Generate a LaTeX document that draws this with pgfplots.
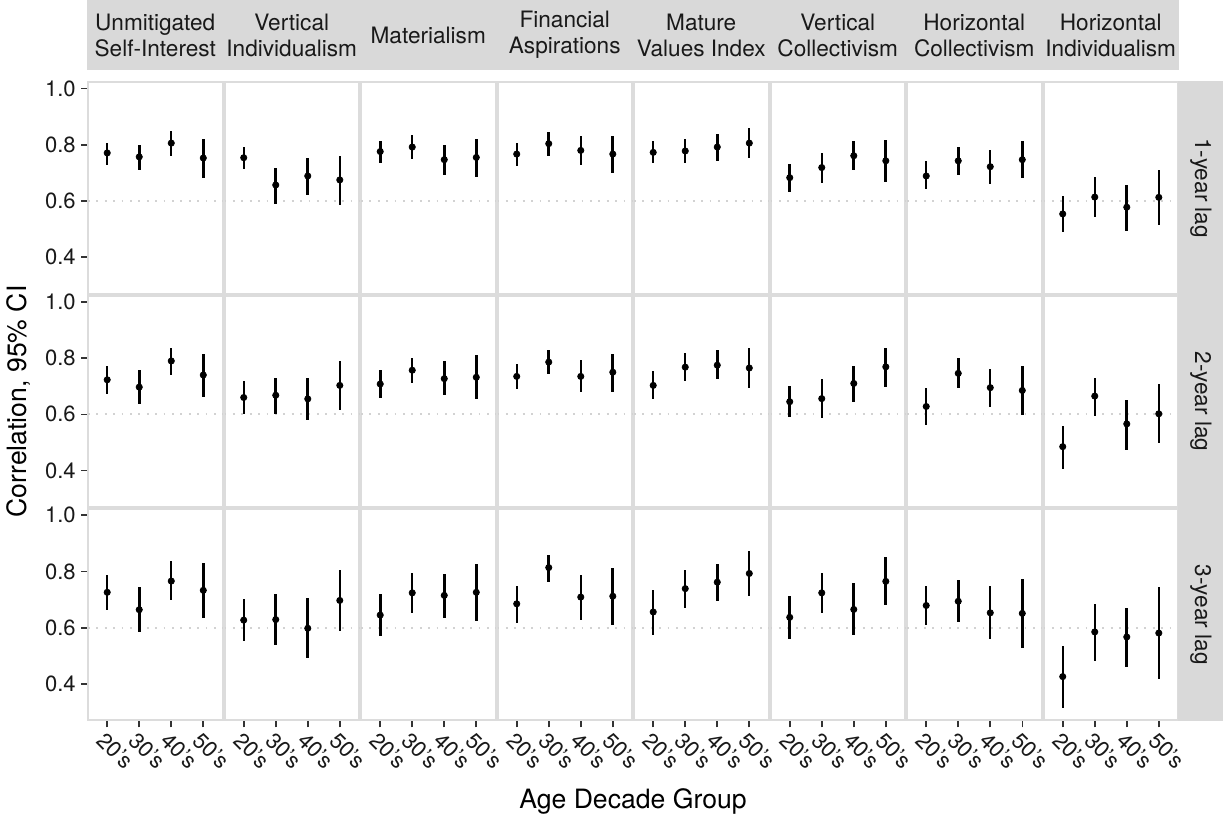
\documentclass[border=0pt]{standalone}
\usepackage{fontspec}
\setmainfont{TeX Gyre Heros}
\usepackage{pgfplots}
\pgfplotsset{compat=1.18}
\usepgfplotslibrary{groupplots}
\usetikzlibrary{calc}

\definecolor{stripgray}{HTML}{D9D9D9}
\definecolor{bordergray}{HTML}{DCDCDC}
\definecolor{tickgray}{HTML}{333333}
\definecolor{refgray}{HTML}{D2D2D2}

\pgfplotsset{
  ci/.style={only marks, mark=*, mark size=1.55pt, black,
    error bars/.cd, y dir=both, y explicit, error mark=none,
    error bar style={line width=#1, black}},
  lft/.style={ymajorticks=true},
  bot/.style={xmajorticks=true},
  strip/.style={title={#1}},
}

% #1 = rows with thin bars, #2 = rows with thick bars (x y lo hi)
\newcommand{\cipanel}[2]{%
  \addplot[refgray, line width=0.9pt, dash pattern=on 0.9pt off 3.3pt] coordinates {(0.4,0.6) (4.6,0.6)};
  \addplot[ci=0.85pt] table[row sep=\\, y error plus expr=\thisrow{hi}-\thisrow{y}, y error minus expr=\thisrow{y}-\thisrow{lo}] {x y lo hi\\ #1};
  \addplot[ci=1.5pt] table[row sep=\\, y error plus expr=\thisrow{hi}-\thisrow{y}, y error minus expr=\thisrow{y}-\thisrow{lo}] {x y lo hi\\ #2};
}
\newcommand{\rowstrip}[1]{%
  \node[fill=stripgray, inner sep=0pt, minimum width=22.5pt, minimum height=106.67pt,
        anchor=west, font=\fontsize{11.3}{13}\selectfont, text=black!90]
        at (rel axis cs:1,0.5) {\rotatebox{-90}{#1}};
}

\begin{document}
\begin{tikzpicture}
\begin{groupplot}[
  group style={group size=8 by 3, horizontal sep=1pt, vertical sep=1pt, group name=G},
  scale only axis, width=67.25pt, height=105.67pt,
  xmin=0.4, xmax=4.6, ymin=0.27, ymax=1.022,
  xtick={1,2,3,4}, xticklabels={20's,30's,40's,50's},
  ytick={0.4,0.6,0.8,1.0},
  xmajorticks=false, ymajorticks=false,
  tickpos=left, tick align=outside, major tick length=3.5pt,
  tick style={draw=tickgray, line width=0.8pt},
  axis line style={draw=bordergray, line width=1pt},
  clip=false,
  /pgf/number format/assume math mode=true,
  /pgf/number format/fixed, /pgf/number format/fixed zerofill, /pgf/number format/precision=1,
  ticklabel style={font=\fontsize{11}{13}\selectfont, text=black!90},
  xticklabel style={rotate=-45, anchor=north west, inner sep=1pt},
  yticklabel style={inner sep=2.5pt},
  title style={at={(0.5,1)}, anchor=south, yshift=0pt, fill=stripgray, inner sep=0pt,
    minimum width=68.25pt, minimum height=35pt, align=center,
    font=\fontsize{11.3}{13}\selectfont, text=black!90},
]
% ---- 1-year lag ----
\nextgroupplot[lft, strip={Unmitigated\\Self-Interest}]
\cipanel{1 0.771 0.729 0.806\\ 3 0.806 0.761 0.849\\}{2 0.757 0.711 0.801\\ 4 0.753 0.683 0.822\\}
\nextgroupplot[strip={Vertical\\Individualism}]
\cipanel{1 0.754 0.713 0.792\\ 4 0.675 0.584 0.761\\}{2 0.657 0.590 0.719\\ 3 0.689 0.623 0.752\\}
\nextgroupplot[strip={Materialism}]
\cipanel{2 0.792 0.749 0.834\\}{1 0.776 0.735 0.813\\ 3 0.747 0.693 0.801\\ 4 0.755 0.686 0.820\\}
\nextgroupplot[strip={Financial\\Aspirations}]
\cipanel{1 0.767 0.724 0.806\\ 3 0.780 0.729 0.830\\}{2 0.804 0.761 0.845\\ 4 0.767 0.701 0.830\\}
\nextgroupplot[strip={Mature\\Values Index}]
\cipanel{1 0.773 0.734 0.813\\ 2 0.778 0.734 0.820\\ 4 0.806 0.752 0.861\\}{3 0.792 0.743 0.839\\}
\nextgroupplot[strip={Vertical\\Collectivism}]
\cipanel{2 0.719 0.664 0.770\\}{1 0.683 0.631 0.731\\ 3 0.761 0.711 0.812\\ 4 0.743 0.669 0.816\\}
\nextgroupplot[strip={Horizontal\\Collectivism}]
\cipanel{1 0.689 0.641 0.742\\ 3 0.722 0.659 0.780\\}{2 0.743 0.692 0.792\\ 4 0.747 0.683 0.814\\}
\nextgroupplot[strip={Horizontal\\Individualism}]
\cipanel{1 0.554 0.488 0.618\\ 2 0.614 0.542 0.687\\ 4 0.613 0.516 0.710\\}{3 0.578 0.495 0.658\\}
\rowstrip{1-year lag}
% ---- 2-year lag ----
\nextgroupplot[lft]
\cipanel{1 0.723 0.672 0.772\\ 3 0.790 0.741 0.837\\}{2 0.697 0.638 0.758\\ 4 0.740 0.662 0.814\\}
\nextgroupplot
\cipanel{1 0.660 0.602 0.717\\ 4 0.703 0.616 0.789\\}{2 0.668 0.602 0.731\\ 3 0.655 0.580 0.731\\}
\nextgroupplot
\cipanel{2 0.757 0.710 0.800\\}{1 0.708 0.657 0.758\\ 3 0.727 0.668 0.790\\ 4 0.732 0.655 0.810\\}
\nextgroupplot
\cipanel{1 0.735 0.690 0.780\\ 3 0.735 0.680 0.795\\}{2 0.786 0.745 0.830\\ 4 0.750 0.680 0.815\\}
\nextgroupplot
\cipanel{1 0.703 0.655 0.755\\ 2 0.768 0.720 0.820\\ 4 0.765 0.695 0.835\\}{3 0.775 0.725 0.830\\}
\nextgroupplot
\cipanel{2 0.656 0.588 0.726\\}{1 0.645 0.590 0.700\\ 3 0.710 0.643 0.772\\ 4 0.769 0.698 0.837\\}
\nextgroupplot
\cipanel{1 0.628 0.562 0.692\\ 3 0.695 0.625 0.763\\}{2 0.746 0.695 0.800\\ 4 0.685 0.598 0.771\\}
\nextgroupplot
\cipanel{1 0.485 0.405 0.559\\ 2 0.665 0.594 0.731\\ 4 0.602 0.497 0.708\\}{3 0.566 0.474 0.651\\}
\rowstrip{2-year lag}
% ---- 3-year lag ----
\nextgroupplot[lft, bot]
\cipanel{1 0.726 0.662 0.788\\ 3 0.766 0.698 0.836\\}{2 0.664 0.584 0.745\\ 4 0.733 0.635 0.831\\}
\nextgroupplot[bot]
\cipanel{1 0.627 0.551 0.703\\ 4 0.697 0.587 0.805\\}{2 0.629 0.538 0.721\\ 3 0.598 0.491 0.706\\}
\nextgroupplot[bot]
\cipanel{2 0.724 0.652 0.795\\}{1 0.645 0.571 0.720\\ 3 0.715 0.635 0.790\\ 4 0.726 0.625 0.828\\}
\nextgroupplot[bot]
\cipanel{1 0.685 0.616 0.750\\ 3 0.709 0.628 0.787\\}{2 0.814 0.764 0.860\\ 4 0.712 0.611 0.814\\}
\nextgroupplot[bot]
\cipanel{1 0.656 0.574 0.735\\ 2 0.739 0.671 0.804\\ 4 0.793 0.714 0.874\\}{3 0.762 0.696 0.828\\}
\nextgroupplot[bot]
\cipanel{2 0.724 0.653 0.795\\}{1 0.637 0.561 0.712\\ 3 0.665 0.575 0.758\\ 4 0.765 0.681 0.850\\}
\nextgroupplot[bot]
\cipanel{1 0.679 0.608 0.748\\ 3 0.653 0.560 0.747\\}{2 0.694 0.620 0.768\\ 4 0.651 0.529 0.772\\}
\nextgroupplot[bot]
\cipanel{1 0.426 0.316 0.536\\ 2 0.585 0.482 0.686\\ 4 0.581 0.417 0.745\\}{3 0.567 0.461 0.670\\}
\rowstrip{3-year lag}
\end{groupplot}
% axis titles
\node[rotate=90, inner sep=0pt, font=\fontsize{13.3}{15}\selectfont]
  at ([xshift=-34.5pt]G c1r2.west) {Correlation, 95\% CI};
\node[anchor=base, inner sep=0pt, font=\fontsize{13.3}{15}\selectfont]
  at ($(G c4r3.south east)!0.5!(G c5r3.south west)+(0,-44pt)$) {Age Decade Group};
% page frame
\path ([shift={(-44pt,38.5pt)}]G c1r1.north west) rectangle ([shift={(23.5pt,-48.5pt)}]G c8r3.south east);
\end{tikzpicture}
\end{document}
